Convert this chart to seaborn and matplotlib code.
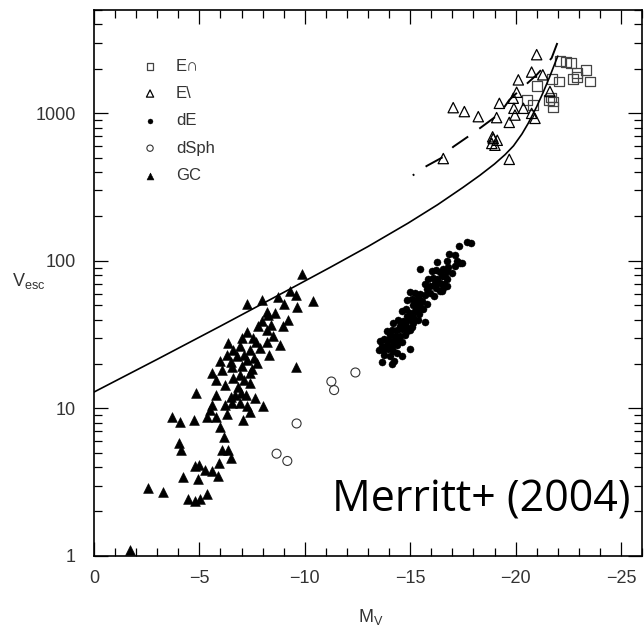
import matplotlib
matplotlib.use('Agg')
import matplotlib.pyplot as plt
import seaborn as sns
from matplotlib.ticker import MultipleLocator, FixedLocator, FuncFormatter, NullFormatter

# --- Datos (M_V, V_esc en km/s) ---
ec_mv = [-22.11, -22.38, -22.62, -22.90, -23.33, -22.93, -22.71, -23.53, -22.07,
         -21.71, -21.03, -20.56, -20.84, -21.68, -21.79, -21.76, -21.60]
ec_vesc = [2249, 2223, 2188, 1871, 1952, 1750, 1702, 1641, 1641,
           1711, 1534, 1230, 1137, 1277, 1200, 1109, 1230]

el_mv = [-21.00, -20.76, -21.29, -20.13, -20.05, -19.89, -19.23, -17.04, -17.57,
         -18.23, -19.10, -19.92, -20.37, -19.97, -19.70, -20.76, -20.92, -21.63,
         -18.91, -16.57, -19.70, -18.94, -19.13, -18.87, -19.02]
el_vesc = [2494, 1901, 1821, 1683, 1387, 1264, 1167, 1091, 1026,
           948, 934, 1080, 1080, 972, 867, 998, 923, 1403,
           692, 493, 487, 674, 656, 624, 607]

de_mv = [-17.71, -17.87, -17.31, -16.86, -17.12, -16.76, -17.20, -16.81, -17.12, -17.36, -17.44,
         -16.25, -15.46,
         -16.02, -16.22, -16.41, -16.57, -16.73, -16.97, -16.65,
         -15.86, -16.06, -16.29, -16.49, -16.76, -16.41, -16.60, -16.17,
         -15.70, -15.94, -16.22, -16.54, -15.78, -16.41, -16.76,
         -14.99, -15.23, -15.46, -15.70, -15.94, -16.13, -15.38, -16.49,
         -14.83, -15.07, -15.30, -15.54, -15.78, -15.15, -15.46, -15.62,
         -14.59, -14.80, -14.99, -15.23, -15.43, -14.83, -15.11, -15.34,
         -14.20, -14.43, -14.67, -14.91, -15.15, -15.38, -14.51, -14.80, -15.07, -15.70,
         -13.88, -14.12, -14.36, -14.59, -14.83, -14.04, -14.28, -14.51, -14.75, -14.99,
         -13.56, -13.75, -13.96, -14.20, -14.43, -13.64, -13.88, -14.12, -14.36, -14.59,
         -13.53, -13.72, -13.96, -14.20, -14.99, -13.75, -14.04, -14.59, -14.36,
         -13.64, -14.12, -14.23]
de_vesc = [134.6, 131.8, 126, 110.9, 109.2, 99.9, 99.9, 91.4, 92.3, 97.3, 96.3,
           98.8, 87.6,
           85.4, 86.8, 84.1, 88.6, 85.4, 83.2, 79.0,
           75.7, 76.9, 74.9, 79.0, 74.9, 71.1, 69.3, 71.1,
           69.3, 67.5, 65.7, 65.7, 64.0, 62.4, 67.5,
           61.4, 60.1, 59.2, 58.3, 60.8, 57.7, 56.2, 62.4,
           54.2, 54.7, 52.5, 53.3, 50.6, 49.8, 49.3, 46.8,
           45.6, 46.8, 44.4, 45.6, 43.3, 42.1, 41.7, 46.8,
           37.9, 39.6, 39.0, 40.0, 37.9, 39.6, 36.0, 36.4, 35.6, 38.3,
           33.3, 34.2, 33.8, 34.5, 33.3, 31.6, 31.1, 30.8, 31.6, 34.2,
           28.5, 29.5, 29.2, 28.5, 29.2, 26.6, 27.0, 26.6, 27.0, 28.0,
           25.0, 24.7, 25.2, 24.3, 25.4, 23.1, 22.7, 22.5, 23.7,
           20.5, 20.0, 20.8]

dsph_mv = [-9.61, -8.66, -9.17, -11.26, -11.39, -12.40]
dsph_vesc = [7.9, 4.93, 4.4, 15.2, 13.3, 17.5]

gc_mv = [-9.89, -10.40, -7.24, -7.95, -8.71, -9.29, -9.58, -9.61, -9.56, -8.26,
         -7.95, -9.21, -8.98, -7.24, -8.19, -8.50, -7.55, -8.82, -6.37, -6.92,
         -7.39, -7.87, -6.29, -6.76, -7.24, -7.71, -5.58, -6.05, -6.53, -6.92,
         -7.39, -6.21, -6.84, -7.39, -6.95,
         -8.2, -8.6, -7.8, -8.4, -7.0, -7.7, -8.2, -6.6, -7.1, -7.6, -8.3,
         -6.0, -6.5, -7.0, -7.5, -6.6, -7.1, -5.8, -6.5, -7.2, -9.0,
         -1.70, -2.54, -3.28, -3.68, -4.10, -4.75, -4.86, -5.37, -5.81, -5.62,
         -5.50, -5.81, -6.21, -6.29, -6.53, -6.68, -6.92, -7.24, -7.39, -7.08,
         -7.63, -8.0, -5.97, -6.18, -4.03, -4.14, -6.05, -6.37, -6.49, -5.94,
         -4.78, -4.97, -5.26, -5.62, -5.86, -4.20, -4.94, -5.37, -4.47, -4.78,
         -5.02]
gc_vesc = [81, 53, 51, 54, 57, 62, 59, 49, 19.2, 43,
           39, 40, 36, 33, 34, 31, 30, 27, 27.7, 26.3,
           25, 25.6, 23, 22.5, 21.3, 20.3, 17.3, 18.2, 19.2, 16.9,
           17.3, 14.4, 14.0, 14.8, 12.8,
           45, 44, 36, 37, 30, 28, 28, 25, 23, 22, 23,
           21, 20.5, 19.5, 18.5, 16, 15.5, 15.5, 12, 12.3, 51,
           1.09, 2.89, 2.70, 8.7, 8.1, 8.4, 12.7, 8.8, 8.8, 10.5,
           9.7, 12.3, 10.5, 9.2, 10.8, 12.3, 10.8, 10.3, 9.5, 8.3,
           11.7, 10.3, 7.5, 6.4, 5.8, 5.2, 5.2, 5.2, 4.6, 4.26,
           4.04, 4.15, 3.8, 3.76, 3.5, 3.42, 3.33, 2.63, 2.43, 2.35,
           2.43]

# curva continua y curva a trazos
curva_mv = [0, -3, -6, -9, -11.2, -13, -14.9, -16.3, -17.5, -18.3, -19.0,
            -19.5, -19.9, -20.3, -20.6, -21.0, -21.3, -21.6, -22.0]
curva_vesc = [12.9, 21.5, 36.1, 61.1, 90.2, 125, 180, 240, 314, 379, 453,
              524, 601, 723, 855, 1107, 1377, 1742, 2438]

trazos_mv = [-15.12, -15.78, -16.57, -17.04, -17.71, -18.34, -19.26, -19.70, -20.21, -21.0, -21.71, -21.98]
trazos_vesc = [379, 439, 506, 592, 689, 798, 998, 1230, 1440, 1820, 2366, 2992]

sns.set_style('ticks')
plt.rcParams['font.family'] = ['Liberation Sans', 'DejaVu Sans']
plt.rcParams['mathtext.fontset'] = 'custom'
plt.rcParams['mathtext.rm'] = 'Liberation Sans'
plt.rcParams['mathtext.it'] = 'Liberation Sans'

fig = plt.figure(figsize=(6.44, 6.31), dpi=100)
ax = fig.add_axes([0.146, 0.119, 0.851, 0.865])
ax.set_yscale('log')

sns.lineplot(x=curva_mv, y=curva_vesc, ax=ax, color='black', linewidth=1.2, sort=False, estimator=None)
sns.lineplot(x=trazos_mv, y=trazos_vesc, ax=ax, color='black', linewidth=1.4, sort=False,
             estimator=None, linestyle=(9.0, (10, 7)))

sns.scatterplot(x=ec_mv, y=ec_vesc, ax=ax, marker='s', s=50, facecolors='none',
                edgecolor='#444444', linewidth=0.9, label='E∩')
sns.scatterplot(x=el_mv, y=el_vesc, ax=ax, marker='^', s=55, facecolors='none',
                edgecolor='black', linewidth=0.9, label='E\\')
sns.scatterplot(x=de_mv, y=de_vesc, ax=ax, marker='o', s=26, color='black',
                edgecolor='black', linewidth=0.3, label='dE')
sns.scatterplot(x=dsph_mv, y=dsph_vesc, ax=ax, marker='o', s=42, facecolors='none',
                edgecolor='#333333', linewidth=0.8, label='dSph')
sns.scatterplot(x=gc_mv, y=gc_vesc, ax=ax, marker='^', s=50, color='black',
                edgecolor='black', linewidth=0.4, label='GC')

ax.set_xlim(0, -26)
ax.set_ylim(1, 5000)

ax.xaxis.set_major_locator(MultipleLocator(5))
ax.xaxis.set_minor_locator(MultipleLocator(1))
ax.yaxis.set_major_locator(FixedLocator([1, 10, 100, 1000]))
ax.yaxis.set_minor_locator(FixedLocator([m * 10 ** d for d in range(4) for m in range(2, 10)]))
ax.yaxis.set_major_formatter(FuncFormatter(lambda v, p: f'{v:g}'))
ax.yaxis.set_minor_formatter(NullFormatter())

ax.tick_params(which='both', direction='in', top=True, right=True, width=0.9, colors='black',
               labelcolor='#333333', labelsize=13)
ax.tick_params(which='major', length=10)
ax.tick_params(which='minor', length=5.5)
ax.tick_params(axis='x', which='major', pad=10)
ax.tick_params(axis='y', which='major', pad=13)
for sp in ax.spines.values():
    sp.set_linewidth(1.2)
    sp.set_color('black')

ax.set_xlabel(r'M$_{\rm V}$', fontsize=13, color='#333333')
ax.xaxis.set_label_coords(0.505, -0.112)
ax.xaxis.label.set_va('center')
ax.set_ylabel(r'V$_{\rm esc}$', fontsize=13, color='#333333', rotation=0, ha='left', va='center')
ax.yaxis.set_label_coords(-0.150, 0.504)

ax.legend(loc='upper left', bbox_to_anchor=(0.087, 0.9112), frameon=False, fontsize=12,
          markerscale=0.7, handlelength=1.0, handletextpad=1.06, labelspacing=0.74,
          borderpad=0, borderaxespad=0, labelcolor='#333333')

ax.text(0.978, 0.0806, 'Merritt+ (2004)', transform=ax.transAxes, ha='right', va='baseline',
        fontsize=31, family='Open Sans', color='black')

fig.savefig('out.png', dpi=100)
